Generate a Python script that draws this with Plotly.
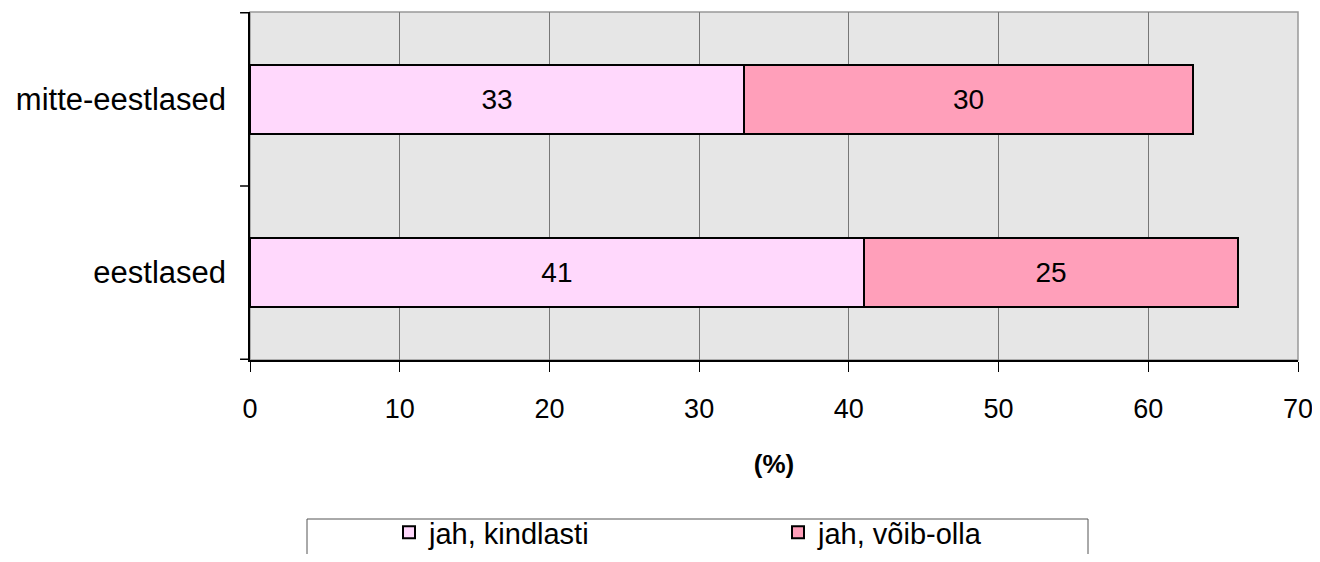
import plotly.graph_objects as go

categories = ["eestlased", "mitte-eestlased"]
kindlasti = [41, 33]
voib_olla = [25, 30]
series_names = ["jah, kindlasti", "jah, võib-olla"]
x_ticks = [0, 10, 20, 30, 40, 50, 60, 70]

FONT = "Liberation Sans, Arial, sans-serif"

fig = go.Figure()
fig.add_trace(go.Bar(
    y=categories, x=kindlasti, orientation="h", name=series_names[0],
    marker=dict(color="#FFD8FC", line=dict(color="#000000", width=2)),
    text=[str(v) for v in kindlasti], textposition="inside", insidetextanchor="middle",
    textfont=dict(size=28, color="#000000", family=FONT),
))
fig.add_trace(go.Bar(
    y=categories, x=voib_olla, orientation="h", name=series_names[1],
    marker=dict(color="#FF9FBA", line=dict(color="#000000", width=2)),
    text=[str(v) for v in voib_olla], textposition="inside", insidetextanchor="middle",
    textfont=dict(size=28, color="#000000", family=FONT),
))

# plot frame (top/right in gray)
fig.add_shape(type="rect", xref="paper", yref="paper", x0=0, x1=1, y0=0, y1=1,
              line=dict(color="#999999", width=1.5), layer="below")

# legend frame, running past the bottom edge like the reference
fig.add_shape(type="rect", xref="paper", yref="paper",
              x0=(299 - 242) / 1048, x1=(1080 - 242) / 1048,
              y0=(352 - 600) / 348, y1=(352 - 511) / 348,
              line=dict(color="#555555", width=1), fillcolor="rgba(0,0,0,0)")

fig.update_layout(
    barmode="stack",
    bargap=0.6,
    width=1304, height=546,
    margin=dict(l=242, r=14, t=4, b=194, autoexpand=False),
    plot_bgcolor="#E6E6E6",
    paper_bgcolor="#FFFFFF",
    font=dict(family=FONT, size=28, color="#000000"),
    xaxis=dict(
        range=[0, 70], tickvals=x_ticks, ticks="outside", ticklen=10, tickcolor="#000000",
        showgrid=True, gridcolor="#777777", gridwidth=1,
        showline=True, linecolor="#000000", linewidth=1.5,
        zeroline=False, automargin=False,
        tickfont=dict(size=27),
        ticklabelstandoff=14,
        ticklabeloverflow="allow",
        title=dict(text="<b>(%)</b>", font=dict(size=26), standoff=32),
    ),
    yaxis=dict(
        showline=True, linecolor="#000000", linewidth=1.5,
        showgrid=False, ticks="", tickfont=dict(size=31),
        ticklabelstandoff=16, automargin=False,
    ),
    showlegend=True,
    legend=dict(
        orientation="h", xref="container", yref="container",
        x=381 / 1304, xanchor="left", y=1 - 499 / 546, yanchor="top",
        borderwidth=0, bgcolor="rgba(0,0,0,0)",
        font=dict(size=29), traceorder="normal",
        entrywidth=344, itemwidth=30,
    ),
)

# category boundary ticks on the left axis
for yb in [-0.5, 0.5, 1.5]:
    fig.add_shape(type="line", xref="paper", yref="y", x0=-0.0095, x1=0, y0=yb, y1=yb,
                  line=dict(color="#000000", width=1.5))

fig.write_html("out.html")
